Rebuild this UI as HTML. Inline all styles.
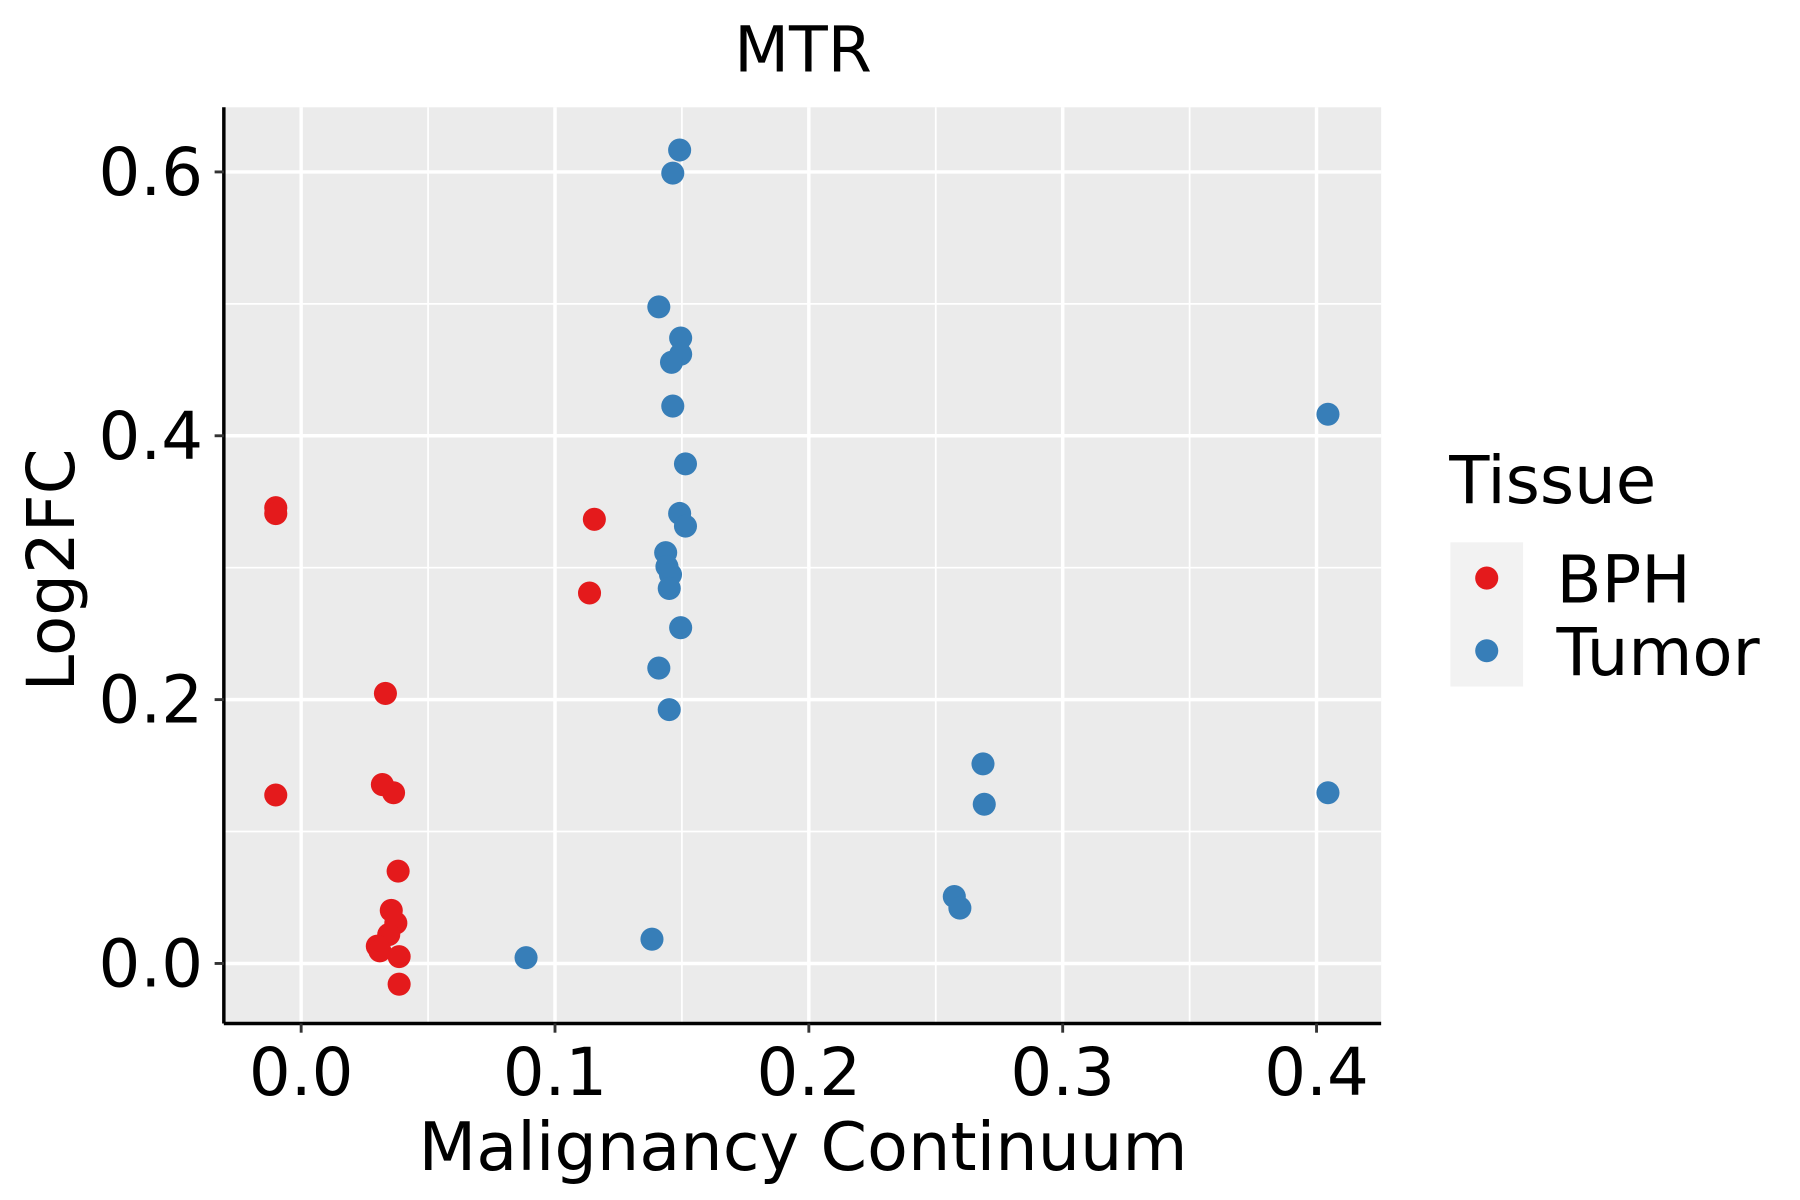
<!DOCTYPE html>
<html><head><meta charset="utf-8"><style>
html,body{margin:0;padding:0;background:#fff;}
svg{display:block;font-family:"DejaVu Sans","Liberation Sans",sans-serif;}
</style></head><body>
<svg id="chart" width="1800" height="1200" viewBox="0 0 1560 1040" xmlns="http://www.w3.org/2000/svg">
<rect x="0" y="0" width="1560" height="1040" fill="#fff"/>
<text x="696" y="62" font-size="55" text-anchor="middle">MTR</text>
<rect x="194" y="93" width="1003" height="794" fill="#ebebeb"/>
<g id="grid"></g>
<g id="points"></g>
<line x1="194" y1="887" x2="1197" y2="887" stroke="#000" stroke-width="3"/>
<line x1="194" y1="93" x2="194" y2="887" stroke="#000" stroke-width="3"/>
<g id="ticks"></g>
<text x="696" y="1014" font-size="58" text-anchor="middle">Malignancy Continuum</text>
<text transform="translate(64,494) rotate(-90)" font-size="57" text-anchor="middle">Log2FC</text>
<g>
<text x="1256" y="436" font-size="57">Tissue</text>
<rect x="1257" y="470" width="63" height="125" fill="#f2f2f2"/>
<circle cx="1288.5" cy="501" r="10" fill="#e41a1c"/>
<circle cx="1288.5" cy="564" r="10" fill="#377eb8"/>
<text x="1349" y="522" font-size="57">BPH</text>
<text x="1349" y="585" font-size="57">Tumor</text>
</g>
</svg>
<script>
const xTicks = [0.0, 0.1, 0.2, 0.3, 0.4];
const xTickLabels = ["0.0", "0.1", "0.2", "0.3", "0.4"];
const yTicks = [0.0, 0.2, 0.4, 0.6];
const yTickLabels = ["0.0", "0.2", "0.4", "0.6"];
const xMinor = [0.05, 0.15, 0.25, 0.35];
const yMinor = [0.1, 0.3, 0.5];
const bphX = [-0.010, -0.010, -0.010, 0.1155, 0.1136, 0.0332, 0.032, 0.0364, 0.0382, 0.0355, 0.0373, 0.0345, 0.030, 0.031, 0.0386, 0.0386];
const bphY = [0.3455, 0.341, 0.1277, 0.3367, 0.2808, 0.2047, 0.1356, 0.1294, 0.070, 0.0402, 0.0306, 0.0219, 0.0131, 0.0096, 0.0052, -0.0157];
const tumorX = [0.1491, 0.1464, 0.1409, 0.1495, 0.1495, 0.1459, 0.1464, 0.1514, 0.1491, 0.1514, 0.1436, 0.1441, 0.1455, 0.145, 0.1495, 0.1409, 0.145, 0.2686, 0.2691, 0.2573, 0.2595, 0.0886, 0.1382, 0.4045, 0.4045];
const tumorY = [0.6166, 0.5991, 0.4977, 0.4741, 0.4618, 0.4557, 0.4225, 0.3787, 0.3411, 0.3315, 0.3114, 0.3009, 0.2948, 0.2843, 0.2545, 0.2239, 0.1924, 0.1513, 0.1207, 0.0507, 0.042, 0.0044, 0.0184, 0.4163, 0.1294];

const NS = "http://www.w3.org/2000/svg";
const xs = v => 261 + v * 2200;
const ys = v => 835 - v * 1143.33;
const grid = document.getElementById('grid');
const ticks = document.getElementById('ticks');
const pts = document.getElementById('points');
function mk(tag, attrs, parent) {
  const e = document.createElementNS(NS, tag);
  for (const k in attrs) e.setAttribute(k, attrs[k]);
  parent.appendChild(e);
  return e;
}
xMinor.forEach(v => {
  const l = mk('line', {x1: xs(v), x2: xs(v), y1: 93, y2: 887, stroke: '#fff', 'stroke-width': 1.5}, grid);
  
  
});
yMinor.forEach(v => {
  const l = mk('line', {x1: 194, x2: 1197, y1: ys(v), y2: ys(v), stroke: '#fff', 'stroke-width': 1.5}, grid);
  
  
});
xTicks.forEach((v, i) => {
  const l = mk('line', {x1: xs(v), x2: xs(v), y1: 93, y2: 887, stroke: '#fff', 'stroke-width': 3}, grid);
  
  
  const t = mk('line', {x1: xs(v), x2: xs(v), y1: 887, y2: 895, stroke: '#333', 'stroke-width': 2.5}, ticks);
  
  
  const tx = mk('text', {x: xs(v), y: 949, 'font-size': 57, 'text-anchor': 'middle', fill: '#000'}, ticks);
  tx.textContent = xTickLabels[i];
  
  
});
yTicks.forEach((v, i) => {
  const l = mk('line', {x1: 194, x2: 1197, y1: ys(v), y2: ys(v), stroke: '#fff', 'stroke-width': 3}, grid);
  
  
  const t = mk('line', {x1: 186, x2: 194, y1: ys(v), y2: ys(v), stroke: '#333', 'stroke-width': 2.5}, ticks);
  
  
  const tx = mk('text', {x: 176, y: ys(v) + 20, 'font-size': 57, 'text-anchor': 'end', fill: '#000'}, ticks);
  tx.textContent = yTickLabels[i];
  
  
});
bphX.forEach((v, i) => {
  const c = mk('circle', {cx: xs(v), cy: ys(bphY[i]), r: 10, fill: '#e41a1c'}, pts);
  
  
});
tumorX.forEach((v, i) => {
  const c = mk('circle', {cx: xs(v), cy: ys(tumorY[i]), r: 10, fill: '#377eb8'}, pts);
  
  
});
</script>
</body></html>
